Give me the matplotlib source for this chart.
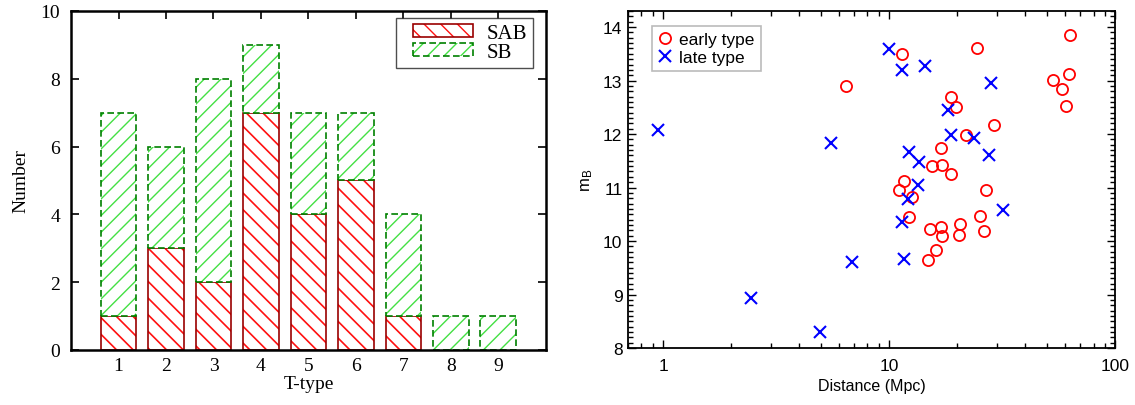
import numpy as np
import matplotlib
matplotlib.use("Agg")
import matplotlib.pyplot as plt
import matplotlib.patches as mpatches
from matplotlib.legend_handler import HandlerTuple
from matplotlib.ticker import MultipleLocator, NullFormatter, LogLocator

plt.rcParams["hatch.linewidth"] = 1.2
plt.rcParams["mathtext.fontset"] = "custom"
plt.rcParams["mathtext.rm"] = "Liberation Sans"
plt.rcParams["mathtext.default"] = "regular"

# venstre: antall per T-type
ttype = np.arange(1, 10)
sab = [1, 3, 2, 7, 4, 5, 1, 0, 0]
sb = [6, 3, 6, 2, 3, 2, 3, 1, 1]

# hoyre: avstand (Mpc) og m_B
d_early = [6.41, 11.35, 24.5, 63.2, 62.4, 53.0, 58.3, 60.3, 18.8, 19.7,
           29.1, 21.8, 16.9, 15.4, 17.1, 18.8, 11.65, 11.07, 26.7, 12.65,
           12.25, 25.3, 20.5, 15.1, 16.9, 17.1, 20.4, 26.3, 16.1, 14.8]
m_early = [12.89, 13.50, 13.60, 13.86, 13.12, 13.01, 12.85, 12.53, 12.69, 12.50,
           12.17, 11.99, 11.73, 11.41, 11.43, 11.25, 11.12, 10.96, 10.96, 10.82,
           10.45, 10.47, 10.32, 10.23, 10.26, 10.10, 10.11, 10.18, 9.83, 9.65]
d_late = [0.95, 5.51, 2.46, 4.94, 6.86, 9.97, 11.42, 14.4, 28.3, 18.2,
          18.8, 23.8, 12.25, 13.49, 27.6, 13.46, 12.06, 31.7, 11.35, 11.62]
m_late = [12.07, 11.83, 8.93, 8.30, 9.60, 13.59, 13.20, 13.27, 12.96, 12.45,
          11.99, 11.93, 11.67, 11.47, 11.60, 11.04, 10.79, 10.58, 10.35, 9.67]

fig = plt.figure(figsize=(11.35, 4.06), dpi=100)
ax1 = fig.add_axes([0.0626, 0.1355, 0.4182, 0.835])
ax2 = fig.add_axes([0.5533, 0.1404, 0.4295, 0.830])

# ---- stolpediagram ----
serif = "Liberation Serif"
w = 0.75
red_h, red_e = "#ff1010", "#990000"
grn_h, grn_e = "#44e044", "#008000"
dash = (0, (4, 2))

ax1.bar(ttype, sab, w, color="white", edgecolor=red_h, hatch="\\\\", lw=0)
ax1.bar(ttype, sab, w, fill=False, edgecolor=red_e, lw=1.2)
plt.rcParams["hatch.linewidth"] = 1.0
ax1.bar(ttype, sb, w, bottom=sab, color="white", edgecolor=grn_h, hatch="//", lw=0)
ax1.bar(ttype, sb, w, bottom=sab, fill=False, edgecolor=grn_e, lw=1.2, ls=dash)

ax1.set_xlim(0, 10)
ax1.set_ylim(0, 10)
ax1.set_xticks(ttype)
ax1.set_yticks(range(0, 11, 2))
ax1.tick_params(direction="in", top=True, right=True, length=6, width=1.2,
                labelsize=14, pad=8)
ax1.tick_params(axis="x", bottom=False, pad=5)
for lab in ax1.get_xticklabels() + ax1.get_yticklabels():
    lab.set_fontfamily(serif)
for s in ax1.spines.values():
    s.set_linewidth(1.8)
ax1.set_xlabel("T-type", fontsize=14, fontfamily=serif, labelpad=1)
ax1.set_ylabel("Number", fontsize=14, fontfamily=serif, labelpad=8)

plt.rcParams["hatch.linewidth"] = 1.2
p1 = mpatches.Patch(facecolor="white", edgecolor=red_h, hatch="\\\\", lw=0)
p1e = mpatches.Patch(fill=False, edgecolor=red_e, lw=1.2)
plt.rcParams["hatch.linewidth"] = 1.0
p2 = mpatches.Patch(facecolor="white", edgecolor=grn_h, hatch="//", lw=0)
p2e = mpatches.Patch(fill=False, edgecolor=grn_e, lw=1.2, ls=dash)
leg = ax1.legend([(p1, p1e), (p2, p2e)], ["SAB", "SB"], loc="upper right",
                 bbox_to_anchor=(0.973, 0.979), borderaxespad=0, fancybox=False,
                 prop={"family": serif, "size": 15}, handlelength=3.4,
                 handleheight=0.55, labelspacing=0.0, borderpad=0.28, handletextpad=0.67,
                 handler_map={tuple: HandlerTuple(ndivide=1, xpad=0.52)})
leg.get_frame().set_edgecolor("#222222")
leg.get_frame().set_linewidth(1.0)

# ---- spredningsplott ----
sans = "Liberation Sans"
ax2.plot(d_early, m_early, "o", mfc="none", mec="red", ms=8, mew=1.3, label="early type")
ax2.plot(d_late, m_late, "x", color="blue", ms=8.5, mew=1.5, label="late type")
ax2.set_xscale("log")
ax2.set_xlim(0.7, 100)
ax2.set_ylim(8, 14.3)
ax2.set_xticks([1, 10, 100], ["1", "10", "100"])
ax2.xaxis.set_minor_locator(LogLocator(base=10, subs=np.arange(2, 10)))
ax2.xaxis.set_minor_formatter(NullFormatter())
ax2.yaxis.set_major_locator(MultipleLocator(1))
ax2.yaxis.set_minor_locator(MultipleLocator(0.1))
ax2.tick_params(which="both", direction="in", top=True, right=True, width=1.0)
ax2.tick_params(which="major", length=6, labelsize=12.5, pad=7)
ax2.tick_params(axis="y", which="major", pad=4)
ax2.tick_params(which="minor", length=3.5)
for lab in ax2.get_xticklabels() + ax2.get_yticklabels():
    lab.set_fontfamily(sans)
for s in ax2.spines.values():
    s.set_linewidth(1.3)
ax2.set_xlabel("Distance (Mpc)", fontsize=11.5, fontfamily=sans, labelpad=4)
ax2.set_ylabel("m$_B$", fontsize=12, fontfamily=sans, labelpad=6)
leg2 = ax2.legend(loc="upper left", bbox_to_anchor=(0.05, 0.955), borderaxespad=0,
                  fancybox=False, prop={"family": sans, "size": 12.5}, handlelength=0.8,
                  handletextpad=0.4, labelspacing=0.15, borderpad=0.35)
leg2.get_frame().set_edgecolor("#aaaaaa")
leg2.get_frame().set_linewidth(1.2)

fig.savefig("out.png", dpi=100)
